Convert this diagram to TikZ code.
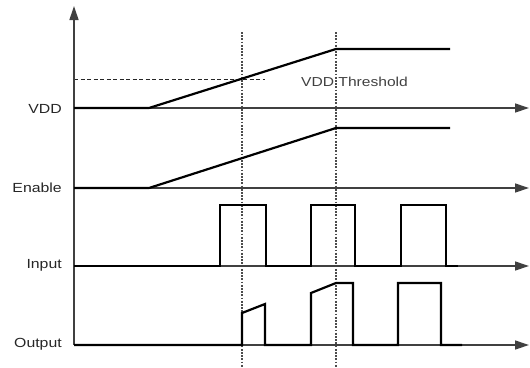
\documentclass[tikz,border=0pt]{standalone}
\usepackage{fontspec}
\setmainfont{Liberation Sans}
\usetikzlibrary{arrows.meta}
\begin{document}
\begin{tikzpicture}[x=1pt,y=-1pt,
  axis/.style={line width=1.3pt,draw=black!75,-{Triangle[length=14pt,width=9pt]}},
  sig/.style={line width=2.2pt,black,line join=miter},
  guide/.style={line width=1.4pt,black!70,dash pattern=on 1.7pt off 1.5pt},
  thr/.style={line width=1pt,black!85,dash pattern=on 4pt off 2.5pt},
  lab/.style={anchor=east,inner sep=0pt,font=\fontsize{13.2}{15}\selectfont,text=black!85,xscale=1.2,transform shape},
  tlab/.style={anchor=west,inner sep=0pt,font=\fontsize{13}{15}\selectfont,text=black!75,xscale=1.2,transform shape}]
\useasboundingbox (0,0) rectangle (530,367);
% axis origin and ends
\coordinate (o) at (74,345);
\coordinate (top) at (74,6);
\coordinate (vddS) at (74,108);  \coordinate (vddE) at (529,108);
\coordinate (enS) at (74,188);   \coordinate (enE) at (529,188);
\coordinate (inS) at (74,266);   \coordinate (inE) at (529,266);
\coordinate (ouE) at (529,345);
% guides
\coordinate (g1t) at (242,32); \coordinate (g1b) at (242,367);
\coordinate (g2t) at (336,32); \coordinate (g2b) at (336,367);
\draw[guide] (g1t) -- (g1b);
\draw[guide] (g2t) -- (g2b);
% threshold
\coordinate (th1) at (74,79); \coordinate (th2) at (265,79);
\draw[thr] (th1) -- (th2);
\node[tlab] (thlab) at (301,82) {VDD Threshold};
% axes
\draw[axis] (o) -- (top);
\draw[axis] (vddS) -- (vddE);
\draw[axis] (enS) -- (enE);
\draw[axis] (inS) -- (inE);
\draw[axis] (o) -- (ouE);
% labels
\node[lab] (lvdd) at (62,109) {VDD};
\node[lab] (len) at (62,188) {Enable};
\node[lab] (lin) at (62,265) {Input};
\node[lab] (lout) at (62,344) {Output};
% VDD signal
\draw[sig] (vddS) -- (149,108) -- (336,49) -- (450,49);
% Enable signal
\draw[sig] (enS) -- (149,188) -- (336,128) -- (450,128);
% Input
\draw[sig] (inS) -- (220,266) -- (220,205) -- (266,205) -- (266,266)
  -- (311,266) -- (311,205) -- (355,205) -- (355,266)
  -- (401,266) -- (401,205) -- (446,205) -- (446,266) -- (458,266);
% Output
\draw[sig] (o) -- (242,345) -- (242,313) -- (265,304) -- (265,345)
  -- (311,345) -- (311,293) -- (336,283) -- (353,283) -- (353,345)
  -- (398,345) -- (398,283) -- (441,283) -- (441,345) -- (462,345);
\end{tikzpicture}
\end{document}
